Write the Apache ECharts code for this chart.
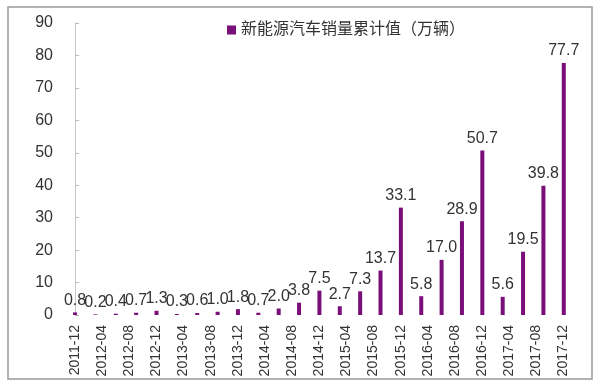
<!DOCTYPE html>
<html>
<head>
<meta charset="utf-8">
<script src="https://cdn.jsdelivr.net/npm/echarts@6/dist/echarts.min.js"></script>
<style>html,body{margin:0;padding:0;background:#fff;}#c{width:600px;height:385px;}</style>
</head>
<body>
<div id="c"></div>
<script>
var seriesName = '新能源汽车销量累计值（万辆）';
var values = [0.8, 0.2, 0.4, 0.7, 1.3, 0.3, 0.6, 1.0, 1.8, 0.7, 2.0, 3.8, 7.5, 2.7, 7.3, 13.7, 33.1, 5.8, 17.0, 28.9, 50.7, 5.6, 19.5, 39.8, 77.7];
var tickLabels = ['2011-12','2012-04','2012-08','2012-12','2013-04','2013-08','2013-12','2014-04','2014-08','2014-12','2015-04','2015-08','2015-12','2016-04','2016-08','2016-12','2017-04','2017-08','2017-12'];
var yTicks = [0,10,20,30,40,50,60,70,80,90];

var FONT = '"Liberation Sans", Arial, "Noto Sans CJK SC", sans-serif';
var chart = echarts.init(document.getElementById('c'), null, {renderer: 'canvas'});
var option = {
  animation: false,
  textStyle: {fontFamily: FONT},
  graphic: [{
    type: 'rect', shape: {x: 8, y: 7, width: 584, height: 372},
    style: {fill: 'none', stroke: '#999', lineWidth: 1.5}, silent: true
  }],
  legend: {
    top: 17, left: 222, itemWidth: 9, itemHeight: 9, itemGap: 6, icon: 'rect',
    textStyle: {fontSize: 16, color: '#333', fontFamily: FONT},
    data: [seriesName]
  },
  grid: {left: 72, right: 24, top: 23, bottom: 70, containLabel: false},
  xAxis: [{
    type: 'value', min: -0.15, max: 24.6, show: false
  }, {
    type: 'value', min: -0.1105, max: 18.46, position: 'bottom',
    axisLine: {show: false}, axisTick: {show: false}, splitLine: {show: false},
    axisLabel: {
      customValues: tickLabels.map(function(_, i){ return i; }),
      rotate: 90, fontSize: 14, color: '#333', margin: 10, fontFamily: FONT,
      formatter: function(v){ return tickLabels[Math.round(v)] || ''; }
    }
  }],
  yAxis: {
    type: 'value', min: 0, max: 90, interval: 10,
    axisLine: {show: true, lineStyle: {color: '#c8c8c8', width: 1}},
    axisTick: {show: true, inside: true, length: 4, lineStyle: {color: '#bbb'}},
    splitLine: {show: false},
    axisLabel: {fontSize: 16, color: '#333', margin: 19, fontFamily: FONT,
      customValues: yTicks}
  },
  series: [{
    name: seriesName, type: 'bar', xAxisIndex: 0,
    barWidth: 4,
    itemStyle: {color: '#7A0F7A'},
    label: {show: true, position: 'top', distance: 4, fontSize: 16, color: '#333', fontFamily: FONT,
      formatter: function(p){ return p.value[1].toFixed(1); }},
    data: values.map(function(v, i){ return [i, v]; })
  }]
};
chart.setOption(option);
</script>
</body>
</html>
